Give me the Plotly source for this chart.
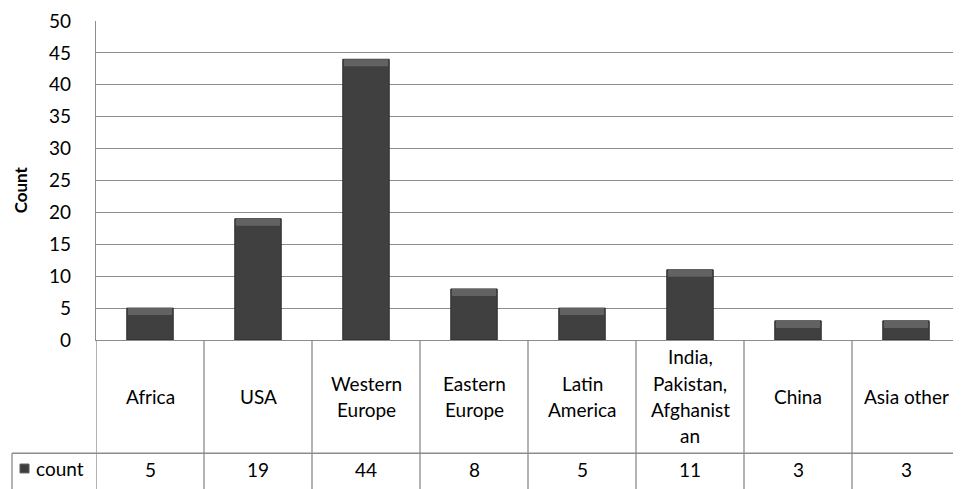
import plotly.graph_objects as go

categories = ["Africa", "USA", "Western Europe", "Eastern Europe", "Latin America",
              "India, Pakistan, Afghanistan", "China", "Asia other"]
table_labels = [["Africa"], ["USA"], ["Western", "Europe"], ["Eastern", "Europe"],
                ["Latin", "America"], ["India,", "Pakistan,", "Afghanist", "an"],
                ["China"], ["Asia other"]]
counts = [5, 19, 44, 8, 5, 11, 3, 3]
series_name = "count"
y_ticks = [0, 5, 10, 15, 20, 25, 30, 35, 40, 45, 50]

FONT = "Lato, Carlito, Calibri, sans-serif"
FS = 19
LINE = "#8c8c8c"
OFF = 8  # default page body margin

x_idx = list(range(len(categories)))
bevel = 1.1

fig = go.Figure()
fig.add_trace(go.Bar(
    x=x_idx, y=counts, width=0.43,
    marker=dict(color="#404040", line=dict(color="#2c2c2c", width=1)),
    name=series_name, showlegend=False, hoverinfo="x+y",
))
# top bevel highlight
fig.add_trace(go.Bar(
    x=x_idx, y=[bevel] * len(counts), base=[v - bevel for v in counts], width=0.41,
    marker=dict(color="#626262", line=dict(width=0)),
    showlegend=False, hoverinfo="skip",
))

W, H = 961 - OFF, 489 - OFF
L = 96 - OFF
T = 16 - OFF
pw = 864
ph = 324
R = W - L - pw
B = H - T - ph

def px_x(p):
    return (p - 96) / pw

def px_y(p):
    return (340 - p) / ph

shapes = []
for i in range(len(categories) + 1):
    shapes.append(dict(type="line", xref="x", yref="paper", x0=i - 0.5, x1=i - 0.5,
                       y0=0, y1=px_y(495), line=dict(color=LINE, width=1.3)))
shapes.append(dict(type="line", xref="paper", yref="paper", x0=px_x(12), x1=1,
                   y0=px_y(455), y1=px_y(455), line=dict(color=LINE, width=1.3)))
shapes.append(dict(type="line", xref="paper", yref="paper", x0=px_x(12), x1=px_x(12),
                   y0=px_y(455), y1=px_y(495), line=dict(color=LINE, width=1.3)))
shapes.append(dict(type="rect", xref="paper", yref="paper", x0=px_x(20), x1=px_x(29),
                   y0=px_y(475), y1=px_y(466), fillcolor="#3e3e3e",
                   line=dict(color="#5a5a5a", width=1)))

annotations = []
LH = 26.5
for i, lines in enumerate(table_labels):
    n = len(lines)
    for k, txt in enumerate(lines):
        yc = 397 + (k - (n - 1) / 2) * LH
        annotations.append(dict(x=i, y=px_y(yc), xref="x", yref="paper", text=txt,
                                showarrow=False, font=dict(family=FONT, size=FS, color="#000"),
                                xanchor="center", yanchor="middle"))
for i, v in enumerate(counts):
    annotations.append(dict(x=i, y=px_y(472), xref="x", yref="paper", text=str(v),
                            showarrow=False, font=dict(family=FONT, size=FS, color="#000"),
                            xanchor="center", yanchor="middle"))
annotations.append(dict(x=px_x(34), y=px_y(471), xref="paper", yref="paper", text=series_name,
                        showarrow=False, font=dict(family=FONT, size=FS, color="#000"),
                        xanchor="left", yanchor="middle"))
annotations.append(dict(x=px_x(20), y=px_y(188), xref="paper", yref="paper", text="<b>Count</b>",
                        showarrow=False, textangle=-90, borderpad=0,
                        font=dict(family=FONT, size=17, color="#000"),
                        xanchor="center", yanchor="middle"))

fig.update_layout(
    width=W, height=H,
    margin=dict(l=L, r=R, t=T, b=B, pad=0),
    paper_bgcolor="white", plot_bgcolor="white",
    barmode="overlay", bargap=0.57,
    showlegend=False,
    font=dict(family=FONT, size=FS, color="#000"),
    xaxis=dict(range=[-0.5, len(categories) - 0.5], showticklabels=False, showgrid=False,
               zeroline=False, showline=True, linecolor=LINE, linewidth=1.3, ticks="",
               fixedrange=True),
    yaxis=dict(range=[0, 50], tickvals=y_ticks, showgrid=True, gridcolor=LINE, gridwidth=1.3,
               zeroline=False, showline=True, linecolor=LINE, linewidth=1.3, ticks="",
               ticklabelstandoff=20, ticklabeloverflow="allow",
               tickfont=dict(family=FONT, size=FS, color="#000"),
               fixedrange=True),
    shapes=shapes, annotations=annotations,
)

fig.write_html("out.html")
